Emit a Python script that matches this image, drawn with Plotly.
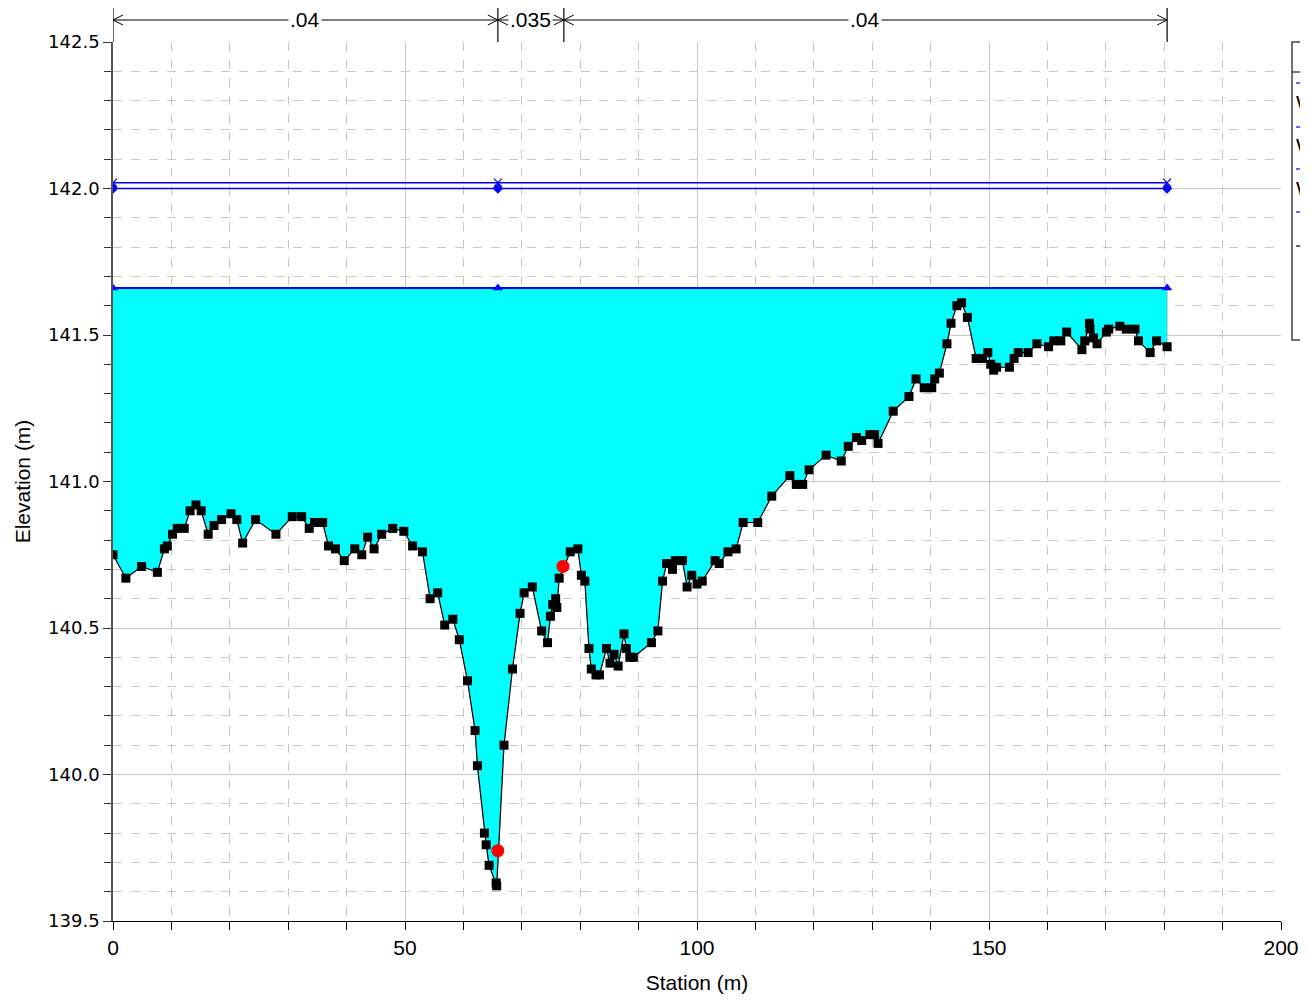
import plotly.graph_objects as go

# ground profile (station m, elevation m)
station = [0, 2.2, 4.9, 7.6, 8.8, 9.3, 10.2, 11.0, 12.2, 13.2, 14.2, 15.1, 16.3, 17.3, 18.6,
           20.2, 21.2, 22.2, 24.4, 27.9, 30.7, 32.3, 33.6, 34.5, 35.9, 36.9, 38.1, 39.6, 41.4,
           42.6, 43.6, 44.7, 46.0, 47.9, 49.8, 51.3, 53.0, 54.3, 55.6, 56.8, 58.2, 59.3, 60.7,
           62.0, 62.4, 63.6, 63.9, 64.4, 65.6, 65.7, 66.95, 68.4, 69.7, 70.4, 71.8, 73.4, 74.4,
           74.9, 75.3, 75.8, 76.0, 76.4, 78.3, 79.6, 80.2, 80.8, 81.5, 81.9, 82.7, 83.3, 84.5,
           85.1, 85.8, 86.5, 87.5, 87.9, 88.5, 89.1, 92.2, 93.3, 94.1, 94.8, 95.8, 96.3, 97.5,
           98.3, 99.1, 100.0, 100.9, 103.1, 103.8, 105.3, 106.7, 107.9, 110.4, 112.8, 115.9,
           117.0, 118.1, 119.2, 122.1, 124.7, 125.9, 127.3, 128.2, 129.6, 130.4, 131.0, 133.6,
           136.3, 137.5, 138.9, 140.2, 140.7, 141.5, 142.8, 143.5, 144.5, 145.3, 146.3, 147.8,
           148.9, 149.8, 150.3, 150.8, 151.3, 153.5, 154.3, 155.0, 156.7, 158.2, 160.2, 161.1,
           162.3, 163.3, 165.9, 166.4, 167.2, 167.3, 167.9, 168.5, 170.1, 170.5, 172.4, 173.5,
           175.0, 175.6, 177.6, 178.7, 180.5]
elevation = [140.75, 140.67, 140.71, 140.69, 140.77, 140.78, 140.82, 140.84, 140.84, 140.90,
             140.92, 140.90, 140.82, 140.85, 140.87, 140.89, 140.87, 140.79, 140.87, 140.82,
             140.88, 140.88, 140.84, 140.86, 140.86, 140.78, 140.77, 140.73, 140.77, 140.75,
             140.81, 140.77, 140.82, 140.84, 140.83, 140.78, 140.76, 140.60, 140.62, 140.51,
             140.53, 140.46, 140.32, 140.15, 140.03, 139.80, 139.76, 139.69, 139.63, 139.62,
             140.10, 140.36, 140.55, 140.62, 140.64, 140.49, 140.45, 140.54, 140.58, 140.60,
             140.57, 140.67, 140.76, 140.77, 140.68, 140.66, 140.43, 140.36, 140.34, 140.34,
             140.43, 140.38, 140.41, 140.37, 140.48, 140.43, 140.40, 140.40, 140.45, 140.49,
             140.66, 140.72, 140.70, 140.73, 140.73, 140.64, 140.68, 140.65, 140.66, 140.73,
             140.72, 140.76, 140.77, 140.86, 140.86, 140.95, 141.02, 140.99, 140.99, 141.04,
             141.09, 141.07, 141.12, 141.15, 141.14, 141.16, 141.16, 141.13, 141.24, 141.29,
             141.35, 141.32, 141.32, 141.35, 141.37, 141.47, 141.54, 141.60, 141.61, 141.56,
             141.42, 141.42, 141.44, 141.40, 141.38, 141.39, 141.39, 141.42, 141.44, 141.44,
             141.47, 141.46, 141.48, 141.48, 141.51, 141.45, 141.48, 141.54, 141.52, 141.49,
             141.47, 141.51, 141.52, 141.53, 141.52, 141.52, 141.48, 141.44, 141.48, 141.46]

# water surfaces
ws_station = [0, 65.9, 180.5]
ws_upper = [142.02, 142.02, 142.02]
ws_mid = [142.00, 142.00, 142.00]
ws_lower = [141.66, 141.66, 141.66]

# bank stations
bank_station = [65.9, 77.05]
bank_elev = [139.74, 140.71]

# manning n zones
n_breaks = [0, 65.9, 77.2, 180.5]
n_values = [".04", ".035", ".04"]

FONT = "Liberation Sans, Arial, sans-serif"

fig = go.Figure()

# water fill between ground and lowest water surface
fig.add_trace(go.Scatter(
    x=station + [ws_station[-1], ws_station[0]],
    y=elevation + [ws_lower[-1], ws_lower[0]],
    fill='toself', fillcolor='#00ffff', mode='lines',
    line=dict(width=0.6, color='#9a9a9a'), showlegend=False, hoverinfo='skip'))

fig.add_trace(go.Scatter(x=ws_station, y=ws_upper, mode='lines+markers',
                         line=dict(color='#0000ff', width=1.5),
                         marker=dict(symbol='x-thin-open', size=8, line=dict(color='#0000ff', width=1.2)),
                         showlegend=False))
fig.add_trace(go.Scatter(x=ws_station, y=ws_mid, mode='lines+markers',
                         line=dict(color='#0000ff', width=1.5),
                         marker=dict(symbol='diamond', size=8, color='#0000ff'),
                         showlegend=False))
fig.add_trace(go.Scatter(x=ws_station, y=ws_lower, mode='lines+markers',
                         line=dict(color='#0000ff', width=2),
                         marker=dict(symbol='triangle-up', size=9, color='#0000ff'),
                         showlegend=False))

fig.add_trace(go.Scatter(x=station, y=elevation, mode='lines+markers',
                         line=dict(color='black', width=1.2),
                         marker=dict(symbol='square', size=9, color='black'),
                         showlegend=False))

fig.add_trace(go.Scatter(x=bank_station, y=bank_elev, mode='markers',
                         marker=dict(symbol='circle', size=13, color='#ff0000'),
                         showlegend=False))

# plot area in screen pixels (page has an 8px body margin)
L, R, T, B = 113, 1281, 42, 921
OFF = 8
W, H = 1308 - OFF, 1002 - 2 * OFF
def px(x):
    return (x - L) / (R - L)
def py(y):
    return (B - y) / (B - T)

shapes = []
annotations = []

# manning n bar at top
y_bar = py(20)
for xb in n_breaks:
    shapes.append(dict(type='line', xref='x', yref='paper', x0=xb, x1=xb, y0=1, y1=py(OFF),
                       line=dict(color='black', width=1.2)))
for i, label in enumerate(n_values):
    x0, x1 = n_breaks[i], n_breaks[i + 1]
    shapes.append(dict(type='line', xref='x', yref='paper', x0=x0, x1=x1, y0=y_bar, y1=y_bar,
                       line=dict(color='black', width=1)))
    for xa, path in ((x0, 'M 10,5 L 0,0 L 10,-5'), (x1, 'M -10,5 L 0,0 L -10,-5')):
        shapes.append(dict(type='path', xref='x', yref='paper', xsizemode='pixel', ysizemode='pixel',
                           xanchor=xa, yanchor=y_bar, path=path,
                           line=dict(color='black', width=1)))
    annotations.append(dict(x=(x0 + x1) / 2, y=y_bar, xref='x', yref='paper', text=label,
                            showarrow=False, bgcolor='white', borderpad=1,
                            xanchor='center', yanchor='middle',
                            font=dict(family=FONT, size=21, color='black')))

# legend box, cut off by the right edge
shapes.append(dict(type='rect', xref='paper', yref='paper', x0=px(1292), x1=px(1330),
                   y0=py(340), y1=py(42), line=dict(color='#444444', width=1.5), fillcolor='white'))
shapes.append(dict(type='line', xref='paper', yref='paper', x0=px(1292), x1=px(1330),
                   y0=py(72), y1=py(72), line=dict(color='#444444', width=1.5)))
for yy, col in ((83, '#0000ff'), (127, '#0000ff'), (169, '#0000ff'), (212, '#0000ff'), (246, 'black')):
    shapes.append(dict(type='line', xref='paper', yref='paper', x0=px(1296), x1=px(1312),
                       y0=py(yy), y1=py(yy), line=dict(color=col, width=1.2)))
for yy, txt in ((103, 'WS 100yr'), (145, 'WS 50yr'), (188, 'WS 10yr')):
    annotations.append(dict(x=px(1294), y=py(yy), xref='paper', yref='paper', text=txt,
                            xanchor='left', yanchor='middle', showarrow=False,
                            font=dict(family=FONT, size=21, color='black')))

fig.update_layout(
    width=W, height=H,
    margin=dict(l=L - OFF, r=W - (R - OFF), t=T - OFF, b=H - (B - OFF)),
    plot_bgcolor='white', paper_bgcolor='white',
    font=dict(family=FONT, size=21, color='black'),
    shapes=shapes, annotations=annotations,
    xaxis=dict(range=[0, 200], dtick=50, tick0=0, showline=True, linecolor='black', linewidth=1.2,
               automargin=False,
               ticks='outside', ticklen=8, tickcolor='black',
               showgrid=True, gridcolor='#c8c8c8', gridwidth=1, zeroline=False,
               tickfont=dict(family=FONT, size=21),
               minor=dict(dtick=10, ticks='outside', ticklen=8, tickcolor='black',
                          showgrid=True, gridcolor='#c8c8c8', griddash='dash', gridwidth=1),
               title=dict(text='Station (m)', font=dict(family=FONT, size=21), standoff=20)),
    yaxis=dict(range=[139.5, 142.5], dtick=0.5, tick0=139.5, tickformat='.1f',
               showline=True, linecolor='#555555', linewidth=1.5,
               automargin=False,
               ticks='outside', ticklen=8, tickcolor='#333333',
               showgrid=True, gridcolor='#c8c8c8', gridwidth=1, zeroline=False,
               tickfont=dict(family='DejaVu Sans', size=18),
               minor=dict(dtick=0.1, ticks='outside', ticklen=7, tickcolor='#333333',
                          showgrid=True, gridcolor='#c8c8c8', griddash='dash', gridwidth=1),
               title=dict(text='Elevation (m)', font=dict(family=FONT, size=21), standoff=12)),
)

fig.write_html("out.html")
